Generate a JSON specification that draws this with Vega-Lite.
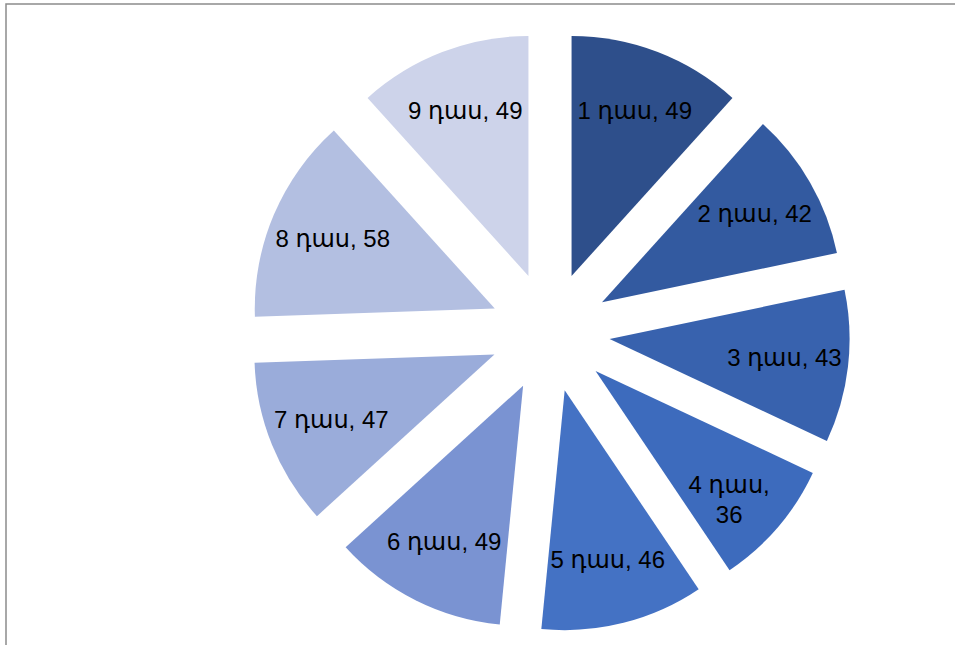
{
  "$schema": "https://vega.github.io/schema/vega-lite/v6.json",
  "width": 1088,
  "height": 656,
  "autosize": {"type": "none"},
  "padding": {"left": 6, "top": 4, "right": 0, "bottom": 0},
  "background": "white",
  "view": {"stroke": "#8c8c8c", "strokeWidth": 1.5, "fill": "white"},
  "data": {
    "values": [
      {"cls": 1, "value": 49, "label": "1 դաս, 49"},
      {"cls": 2, "value": 42, "label": "2 դաս, 42"},
      {"cls": 3, "value": 43, "label": "3 դաս, 43"},
      {"cls": 4, "value": 36, "label": "4 դաս,\n36"},
      {"cls": 5, "value": 46, "label": "5 դաս, 46"},
      {"cls": 6, "value": 49, "label": "6 դաս, 49"},
      {"cls": 7, "value": 47, "label": "7 դաս, 47"},
      {"cls": 8, "value": 58, "label": "8 դաս, 58"},
      {"cls": 9, "value": 49, "label": "9 դաս, 49"}
    ]
  },
  "encoding": {
    "theta": {"field": "value", "type": "quantitative", "stack": true},
    "order": {"field": "cls", "type": "quantitative"}
  },
  "layer": [
    {
      "mark": {
        "type": "arc",
        "outerRadius": 240,
        "xOffset": {"expr": "60*sin((scale('theta', datum.value_start) + scale('theta', datum.value_end))/2)"},
        "yOffset": {"expr": "-60*cos((scale('theta', datum.value_start) + scale('theta', datum.value_end))/2)"}
      },
      "encoding": {
        "color": {
          "field": "cls",
          "type": "ordinal",
          "legend": null,
          "scale": {
            "domain": [1, 2, 3, 4, 5, 6, 7, 8, 9],
            "range": ["#2E4F8B", "#335AA0", "#3862AE", "#3D6BBD", "#4472C4", "#7A93D2", "#9AACDA", "#B3BFE1", "#CDD3EA"]
          }
        }
      }
    },
    {
      "mark": {
        "type": "text",
        "radius": 176,
        "font": "Liberation Sans, Arial, DejaVu Sans",
        "fontSize": 24,
        "color": "#000000",
        "lineBreak": "\n",
        "lineHeight": 30,
        "align": "center",
        "baseline": "middle",
        "xOffset": {"expr": "60*sin((scale('theta', datum.value_start) + scale('theta', datum.value_end))/2)"},
        "yOffset": {"expr": "-60*cos((scale('theta', datum.value_start) + scale('theta', datum.value_end))/2)"}
      },
      "encoding": {
        "text": {"field": "label", "type": "nominal"}
      }
    }
  ]
}
